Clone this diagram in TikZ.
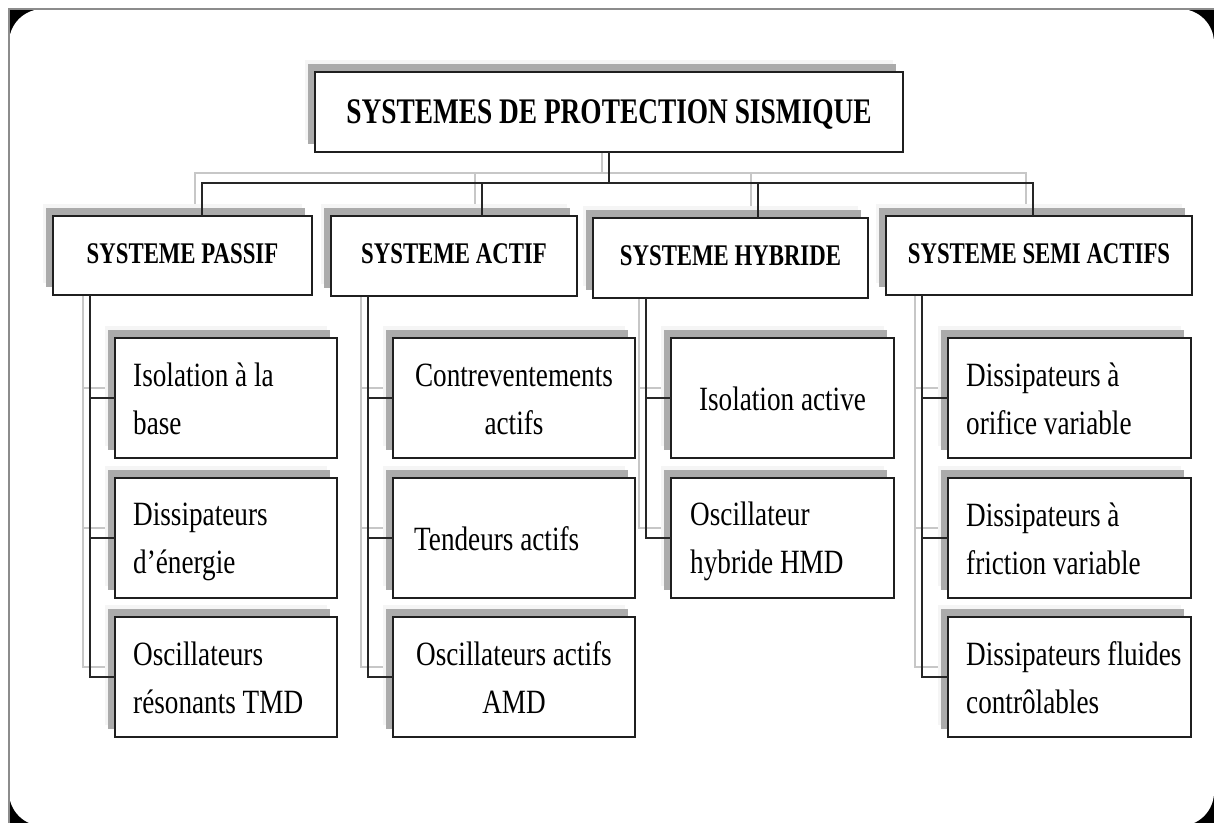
\documentclass[tikz,border=0pt]{standalone}
\usepackage{fontspec}
\setmainfont{Liberation Serif}
\newfontfamily\hdfont[FakeStretch=0.76]{Liberation Serif}
\newfontfamily\bdfont[FakeStretch=0.8]{Liberation Serif}
\usetikzlibrary{shadows}
\pgfdeclarelayer{frame}
\pgfdeclarelayer{shad}
\pgfsetlayers{frame,shad,main}
\newcommand\myTS{\rule{0pt}{30pt}}
\newcommand\myBS{\rule[-6pt]{0pt}{6pt}}
\newcommand\mylink[1]{%
  \begin{pgfonlayer}{shad}\draw[litel,transform canvas={xshift=-7pt,yshift=10pt}] #1;\end{pgfonlayer}%
  \draw[darkl] #1;}
\begin{document}
\begin{tikzpicture}[x=1pt,y=-1pt,
  bx/.style={draw=black!88,line width=1.8pt,fill=white,inner sep=0pt,outer sep=0pt,anchor=north west,
    general shadow={fill=black!4,shadow xshift=-10pt,shadow yshift=12pt},
    general shadow={fill=black!33,shadow xshift=-7pt,shadow yshift=8pt}},
  hbox/.style={bx,font=\hdfont\bfseries\fontsize{30}{34}\selectfont,text depth=4pt},
  cbox/.style={bx,minimum height=120pt},
  ctxt/.style={inner sep=0pt,font=\bdfont\fontsize{34}{48}\selectfont},
  ltxt/.style={ctxt,anchor=west,align=left},
  mtxt/.style={ctxt,anchor=center,align=center},
  darkl/.style={draw=black!85,line width=1.8pt},
  litel/.style={draw=black!22,line width=1.5pt}]
\useasboundingbox (0,0) rectangle (1214,823);
% frame
\begin{pgfonlayer}{frame}
\fill[white] (0,0) rectangle (1214,823);
\fill[black] (9,9) rectangle (1214,823);
\fill[white,rounded corners=34pt] (9,9) rectangle (1214,826);
\draw[black!45,line width=1.3pt] (9,823) -- (9,9) -- (1214,9);
\end{pgfonlayer}
% title and headings
\node[bx,font=\hdfont\bfseries\fontsize{36}{40}\selectfont,text depth=0pt,minimum width=588pt,minimum height=80pt] (title) at (315,72) {SYSTEMES DE PROTECTION SISMIQUE};
\node[hbox,minimum width=259pt,minimum height=79pt] (passif) at (53,216) {SYSTEME PASSIF};
\node[hbox,minimum width=246pt,minimum height=80pt] (actif) at (331,216) {SYSTEME ACTIF};
\node[hbox,minimum width=275pt,minimum height=80pt] (hybr) at (593,218) {SYSTEME HYBRIDE};
\node[hbox,minimum width=306pt,minimum height=79pt] (semi) at (886,216) {SYSTEME SEMI ACTIFS};
% child boxes
\node[cbox,minimum width=222pt] (p1) at (115,338) {};
\node[cbox,minimum width=222pt] (p2) at (115,478) {};
\node[cbox,minimum width=222pt] (p3) at (115,617) {};
\node[cbox,minimum width=242pt] (a1) at (393,338) {};
\node[cbox,minimum width=242pt] (a2) at (393,478) {};
\node[cbox,minimum width=242pt] (a3) at (393,617) {};
\node[cbox,minimum width=223pt] (h1) at (671,338) {};
\node[cbox,minimum width=223pt] (h2) at (671,478) {};
\node[cbox,minimum width=243pt] (s1) at (948,338) {};
\node[cbox,minimum width=243pt] (s2) at (948,478) {};
\node[cbox,minimum width=243pt] (s3) at (948,617) {};
% child texts
\node[ltxt] (tp1) at ([xshift=18pt]p1.west) {\myTS Isolation à la\\base\myBS};
\node[ltxt] (tp2) at ([xshift=18pt]p2.west) {\myTS Dissipateurs\\d’énergie\myBS};
\node[ltxt] (tp3) at ([xshift=18pt]p3.west) {\myTS Oscillateurs\\résonants TMD\myBS};
\node[mtxt] (ta1) at (a1.center) {\myTS Contreventements\\actifs\myBS};
\node[ltxt] (ta2) at ([xshift=21pt]a2.west) {\myTS Tendeurs actifs\myBS};
\node[mtxt] (ta3) at (a3.center) {\myTS Oscillateurs actifs\\AMD\myBS};
\node[mtxt] (th1) at (h1.center) {\myTS Isolation active\myBS};
\node[ltxt] (th2) at ([xshift=19pt]h2.west) {\myTS Oscillateur\\hybride HMD\myBS};
\node[ltxt] (ts1) at ([xshift=18pt]s1.west) {\myTS Dissipateurs à\\orifice variable\myBS};
\node[ltxt] (ts2) at ([xshift=18pt]s2.west) {\myTS Dissipateurs à\\friction variable\myBS};
\node[ltxt] (ts3) at ([xshift=18pt]s3.west) {\myTS Dissipateurs fluides\\contrôlables\myBS};
% connector coordinates
\coordinate (dp) at (202,183);
\coordinate (da) at (482,183);
\coordinate (dh) at (758,183);
\coordinate (ds) at (1033,183);
\coordinate (vp) at (90,0);
\coordinate (va) at (368,0);
\coordinate (vh) at (646,0);
\coordinate (vs) at (922,0);
% top level connectors
\mylink{(title.south) -- (title.south |- dp)}
\mylink{(dp |- passif.north) -- (dp) -- (ds) -- (ds |- semi.north)}
\mylink{(da) -- (da |- actif.north)}
\mylink{(dh) -- (dh |- hybr.north)}
% passif children
\mylink{(vp |- passif.south) -- (vp |- p3.west) -- (p3.west)}
\mylink{(vp |- p1.west) -- (p1.west)}
\mylink{(vp |- p2.west) -- (p2.west)}
% actif children
\mylink{(va |- actif.south) -- (va |- a3.west) -- (a3.west)}
\mylink{(va |- a1.west) -- (a1.west)}
\mylink{(va |- a2.west) -- (a2.west)}
% hybride children
\mylink{(vh |- hybr.south) -- (vh |- h2.west) -- (h2.west)}
\mylink{(vh |- h1.west) -- (h1.west)}
% semi children
\mylink{(vs |- semi.south) -- (vs |- s3.west) -- (s3.west)}
\mylink{(vs |- s1.west) -- (s1.west)}
\mylink{(vs |- s2.west) -- (s2.west)}
\end{tikzpicture}
\end{document}
